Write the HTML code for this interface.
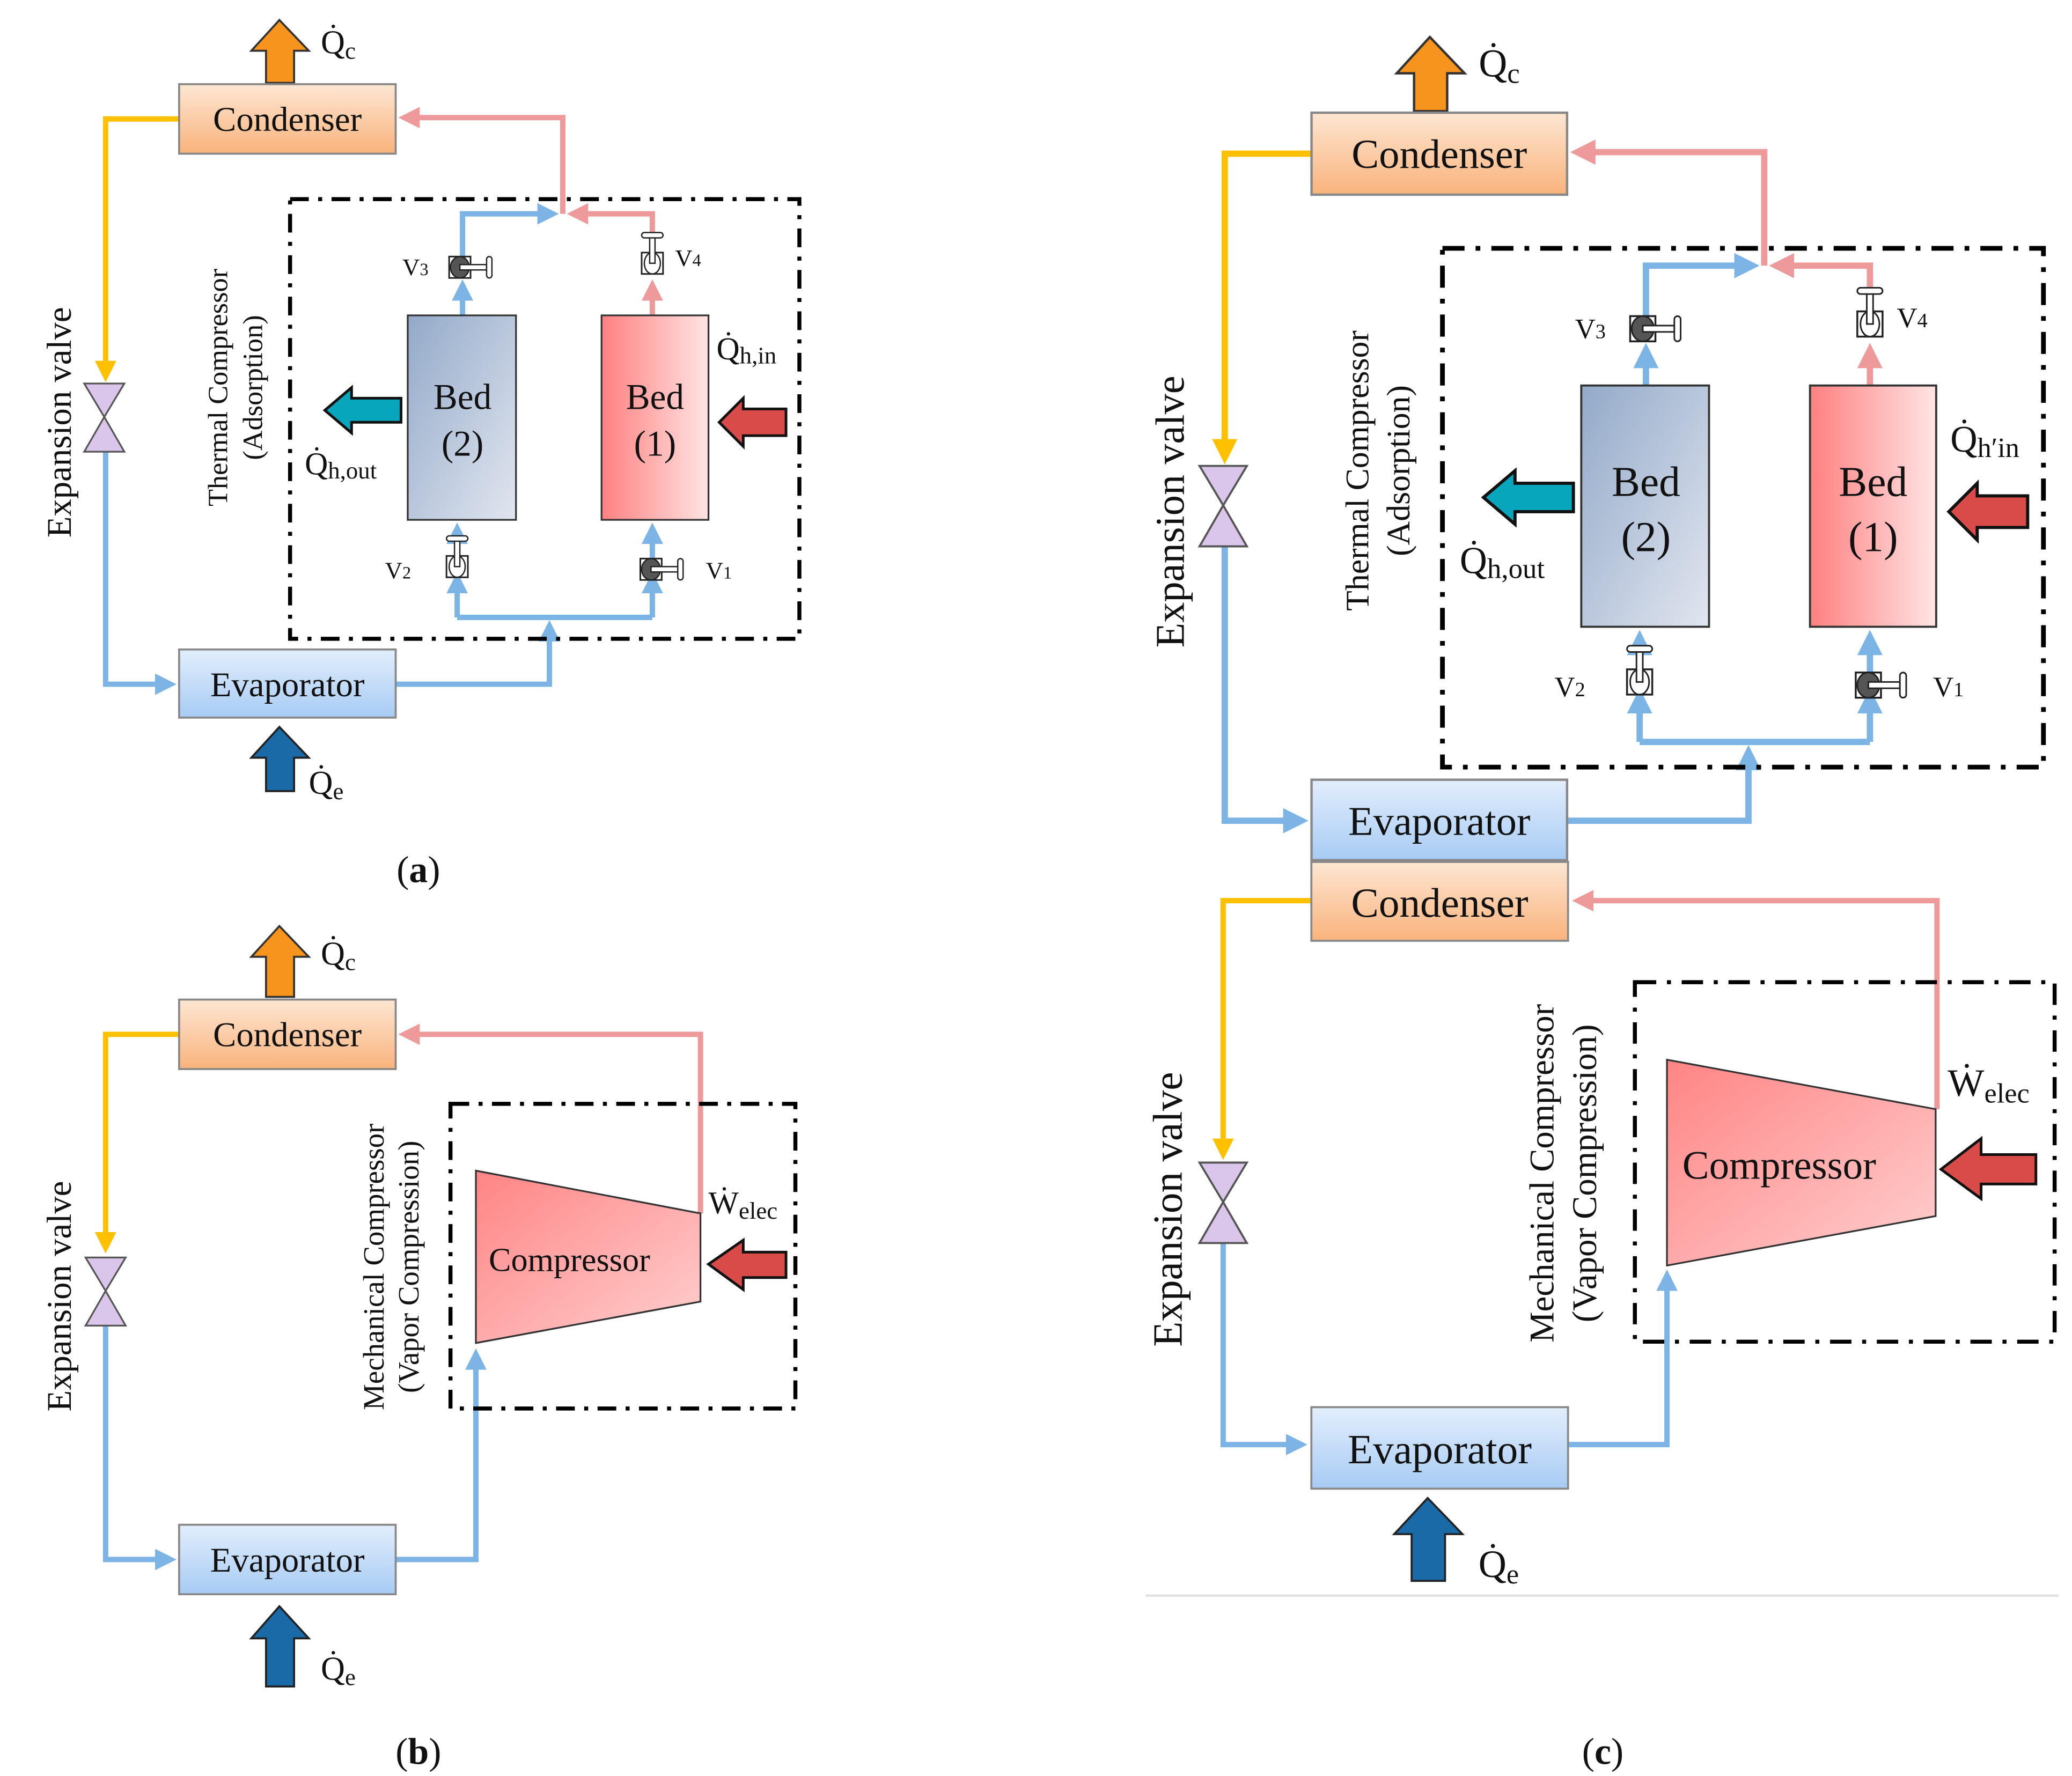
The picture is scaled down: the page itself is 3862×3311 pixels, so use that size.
<!DOCTYPE html>
<html><head><meta charset="utf-8">
<style>html,body{margin:0;padding:0;background:#fff;}svg{display:block;}
text{font-family:"Liberation Serif",serif;fill:#111;}</style></head>
<body>
<svg width="3862" height="3311" viewBox="0 0 1550 1329" preserveAspectRatio="none" xmlns="http://www.w3.org/2000/svg" font-family="Liberation Serif, serif">
<defs>
<linearGradient id="gCond" x1="0" y1="0" x2="0" y2="1"><stop offset="0" stop-color="#fde6d2"/><stop offset="1" stop-color="#f9b37c"/></linearGradient>
<linearGradient id="gEvap" x1="0" y1="0" x2="0" y2="1"><stop offset="0" stop-color="#e2eefc"/><stop offset="1" stop-color="#a7cbf4"/></linearGradient>
<linearGradient id="gB2" x1="0" y1="0" x2="1" y2="1"><stop offset="0" stop-color="#93a9c9"/><stop offset="1" stop-color="#e1e6ef"/></linearGradient>
<linearGradient id="gB1" x1="0" y1="0" x2="1" y2="0"><stop offset="0" stop-color="#ff8080"/><stop offset="1" stop-color="#ffe4e4"/></linearGradient>
<linearGradient id="gComp" x1="0" y1="0" x2="1" y2="1"><stop offset="0" stop-color="#ff8484"/><stop offset="1" stop-color="#ffd0d0"/></linearGradient>
<marker id="mB" markerWidth="4" markerHeight="4" refX="3" refY="2" orient="auto" markerUnits="strokeWidth"><path d="M0,0 L4,2 L0,4 Z" fill="#7cb4e6"/></marker>
<marker id="mP" markerWidth="4" markerHeight="4" refX="3" refY="2" orient="auto" markerUnits="strokeWidth"><path d="M0,0 L4,2 L0,4 Z" fill="#ee9a9a"/></marker>
<marker id="mY" markerWidth="4" markerHeight="4" refX="3" refY="2" orient="auto" markerUnits="strokeWidth"><path d="M0,0 L4,2 L0,4 Z" fill="#ffc000"/></marker>
<g id="valveA"><rect x="-8" y="-8" width="16" height="16" fill="#fff" stroke="#222" stroke-width="1.2"/><ellipse cx="0" cy="0" rx="7" ry="8" fill="#555" stroke="#222"/><rect x="0" y="-2" width="20" height="4" fill="#fff" stroke="#222" stroke-width="1"/><rect x="20" y="-8" width="4" height="16" rx="2" fill="#fff" stroke="#222" stroke-width="1"/></g>
<g id="valveB"><rect x="-8" y="-8" width="16" height="16" fill="#fff" stroke="#222" stroke-width="1.2"/><ellipse cx="0" cy="0" rx="6" ry="8" fill="#fff" stroke="#222"/><rect x="-2" y="-20" width="4" height="20" fill="#fff" stroke="#222" stroke-width="1"/><rect x="-8" y="-23" width="16" height="4" rx="2" fill="#fff" stroke="#222" stroke-width="1"/></g>
<g id="bowtie"><path d="M-15,0 L15,0 L0,25 Z M-15,51 L15,51 L0,25 Z" fill="#d9c6ea" stroke="#555" stroke-width="1.3"/></g>

<g id="panelA" font-family="Liberation Serif, serif">
  <path d="M199,62 L199,38 L188,38 L209,15 L231,38 L220,38 L220,62 Z" fill="#f7941d" stroke="#333" stroke-width="1.5"/>
  <text x="240" y="40" font-size="25">Q&#775;<tspan font-size="18" dy="4">c</tspan></text>
  <polyline points="134,89 79,89 79,282" fill="none" stroke="#ffc000" stroke-width="4" marker-end="url(#mY)"/>
  <polyline points="79,338 79,512 128,512" fill="none" stroke="#7cb4e6" stroke-width="4" marker-end="url(#mB)"/>
  <polyline points="296,512 411,512 411,468" fill="none" stroke="#7cb4e6" stroke-width="4" marker-end="url(#mB)"/>
  <polyline points="342,462 488,462" fill="none" stroke="#7cb4e6" stroke-width="4"/>
  <polyline points="342,462 342,432" fill="none" stroke="#7cb4e6" stroke-width="4" marker-end="url(#mB)"/>
  <polyline points="488,462 488,432" fill="none" stroke="#7cb4e6" stroke-width="4" marker-end="url(#mB)"/>
  <polyline points="342,412 342,395" fill="none" stroke="#7cb4e6" stroke-width="4" marker-end="url(#mB)"/>
  <polyline points="488,418 488,395" fill="none" stroke="#7cb4e6" stroke-width="4" marker-end="url(#mB)"/>
  <polyline points="346,236 346,213" fill="none" stroke="#7cb4e6" stroke-width="4" marker-end="url(#mB)"/>
  <polyline points="346,192 346,160 414,160" fill="none" stroke="#7cb4e6" stroke-width="4" marker-end="url(#mB)"/>
  <polyline points="488,236 488,213" fill="none" stroke="#ee9a9a" stroke-width="4" marker-end="url(#mP)"/>
  <polyline points="488,176 488,160 428,160" fill="none" stroke="#ee9a9a" stroke-width="4" marker-end="url(#mP)"/>
  <polyline points="421,160 421,88 302,88" fill="none" stroke="#ee9a9a" stroke-width="4" marker-end="url(#mP)"/>
  <rect x="134" y="63" width="162" height="52" fill="url(#gCond)" stroke="#888" stroke-width="1.5"/>
  <text x="215" y="98" font-size="26" text-anchor="middle">Condenser</text>
  <rect x="134" y="486" width="162" height="51" fill="url(#gEvap)" stroke="#888" stroke-width="1.5"/>
  <text x="215" y="521" font-size="26" text-anchor="middle">Evaporator</text>
  <use href="#bowtie" x="78" y="287"/>
  <text transform="translate(53,316) rotate(-90)" font-size="26" text-anchor="middle">Expansion valve</text>
  <rect x="217" y="149" width="381" height="329" fill="none" stroke="#000" stroke-width="3" stroke-dasharray="14 7 3 7"/>
  <rect x="305" y="236" width="81" height="153" fill="url(#gB2)" stroke="#333" stroke-width="1.3"/>
  <text x="346" y="306" font-size="27" text-anchor="middle">Bed</text>
  <text x="346" y="341" font-size="27" text-anchor="middle">(2)</text>
  <rect x="450" y="236" width="80" height="153" fill="url(#gB1)" stroke="#333" stroke-width="1.3"/>
  <text x="490" y="306" font-size="27" text-anchor="middle">Bed</text>
  <text x="490" y="341" font-size="27" text-anchor="middle">(1)</text>
  <use href="#valveA" x="344" y="200"/>
  <use href="#valveB" x="488" y="197"/>
  <use href="#valveB" x="342" y="424"/>
  <use href="#valveA" x="487" y="426"/>
  <text x="301" y="206" font-size="18">V<tspan font-size="13">3</tspan></text>
  <text x="505" y="199" font-size="18">V<tspan font-size="13">4</tspan></text>
  <text x="288" y="433" font-size="18">V<tspan font-size="13">2</tspan></text>
  <text x="528" y="433" font-size="18">V<tspan font-size="13">1</tspan></text>
  <path d="M300,298 L263,298 L263,290 L243,307 L263,324 L263,316 L300,316 Z" fill="#08a6bd" stroke="#111" stroke-width="2"/>
  <path d="M588,306 L556,306 L556,298 L538,316 L556,334 L556,326 L588,326 Z" fill="#d94b48" stroke="#111" stroke-width="2"/>
  <text x="228" y="355" font-size="24">Q&#775;<tspan font-size="18" dy="3">h,out</tspan></text>
  <text transform="translate(170,290) rotate(-90)" font-size="21" text-anchor="middle">Thermal Compressor</text>
  <text transform="translate(196,290) rotate(-90)" font-size="21" text-anchor="middle">(Adsorption)</text>
</g>
</defs>

<use href="#panelA"/>
<text x="536" y="269" font-size="24">Q&#775;<tspan font-size="18" dy="3">h,in</tspan></text>
<path d="M199,592 L199,567 L188,567 L209,544 L231,567 L220,567 L220,592 Z" fill="#1a6aa8" stroke="#222" stroke-width="1.5"/>
<text x="231" y="594" font-size="25">Q&#775;<tspan font-size="18" dy="4">e</tspan></text>
<text x="313" y="660" font-size="28" text-anchor="middle">(<tspan font-weight="bold">a</tspan>)</text>

<g transform="translate(823,10) scale(1.18)"><use href="#panelA"/></g>
<text x="1459" y="338" font-size="28">Q&#775;<tspan font-size="21" dy="4">h′in</tspan></text>

<!-- panel b -->
<path d="M199,746 L199,716 L188,716 L209,693 L231,716 L220,716 L220,746 Z" fill="#f7941d" stroke="#333" stroke-width="1.5"/>
<text x="240" y="722" font-size="25">Q&#775;<tspan font-size="18" dy="4">c</tspan></text>
<polyline points="134,774 79,774 79,934" fill="none" stroke="#ffc000" stroke-width="4" marker-end="url(#mY)"/>
<polyline points="79,992 79,1167 128,1167" fill="none" stroke="#7cb4e6" stroke-width="4" marker-end="url(#mB)"/>
<polyline points="296,1167 356,1167 356,1013" fill="none" stroke="#7cb4e6" stroke-width="4" marker-end="url(#mB)"/>
<polyline points="524,908 524,774 302,774" fill="none" stroke="#ee9a9a" stroke-width="4" marker-end="url(#mP)"/>
<rect x="134" y="748" width="162" height="52" fill="url(#gCond)" stroke="#888" stroke-width="1.5"/>
<text x="215" y="783" font-size="26" text-anchor="middle">Condenser</text>
<rect x="134" y="1141" width="162" height="52" fill="url(#gEvap)" stroke="#888" stroke-width="1.5"/>
<text x="215" y="1176" font-size="26" text-anchor="middle">Evaporator</text>
<use href="#bowtie" x="79" y="941"/>
<text transform="translate(53,970) rotate(-90)" font-size="26" text-anchor="middle">Expansion valve</text>
<rect x="337" y="826" width="258" height="228" fill="none" stroke="#000" stroke-width="3" stroke-dasharray="14 7 3 7"/>
<path d="M356,876 L524,908 L524,974 L356,1005 Z" fill="url(#gComp)" stroke="#333" stroke-width="1.3"/>
<text x="426" y="951" font-size="25" text-anchor="middle">Compressor</text>
<path d="M588,937 L556,937 L556,928 L530,946 L556,965 L556,956 L588,956 Z" fill="#d94b48" stroke="#111" stroke-width="2"/>
<text x="530" y="908" font-size="24">W&#775;<tspan font-size="18" dy="4">elec</tspan></text>
<text transform="translate(287,948) rotate(-90)" font-size="22" text-anchor="middle">Mechanical Compressor</text>
<text transform="translate(313,948) rotate(-90)" font-size="22" text-anchor="middle">(Vapor Compression)</text>
<path d="M199,1262 L199,1226 L188,1226 L209,1202 L231,1226 L220,1226 L220,1262 Z" fill="#1a6aa8" stroke="#222" stroke-width="1.5"/>
<text x="240" y="1257" font-size="25">Q&#775;<tspan font-size="18" dy="4">e</tspan></text>
<text x="313" y="1320" font-size="28" text-anchor="middle">(<tspan font-weight="bold">b</tspan>)</text>

<!-- panel c bottom -->
<polyline points="981,674 915,674 915,864" fill="none" stroke="#ffc000" stroke-width="4" marker-end="url(#mY)"/>
<polyline points="915,930 915,1081 974,1081" fill="none" stroke="#7cb4e6" stroke-width="4" marker-end="url(#mB)"/>
<polyline points="1173,1081 1247,1081 1247,954" fill="none" stroke="#7cb4e6" stroke-width="4" marker-end="url(#mB)"/>
<polyline points="1449,830 1449,674 1180,674" fill="none" stroke="#ee9a9a" stroke-width="4" marker-end="url(#mP)"/>
<rect x="981" y="645" width="192" height="59" fill="url(#gCond)" stroke="#888" stroke-width="1.5"/>
<text x="1077" y="686" font-size="31" text-anchor="middle">Condenser</text>
<rect x="981" y="1053" width="192" height="61" fill="url(#gEvap)" stroke="#888" stroke-width="1.5"/>
<text x="1077" y="1095" font-size="31" text-anchor="middle">Evaporator</text>
<g transform="translate(915,870) scale(1.18)"><use href="#bowtie"/></g>
<text transform="translate(884,905) rotate(-90)" font-size="31" text-anchor="middle">Expansion valve</text>
<rect x="1223" y="735" width="314" height="269" fill="none" stroke="#000" stroke-width="3" stroke-dasharray="16 8 3 8"/>
<path d="M1247,793 L1448,830 L1448,910 L1247,947 Z" fill="url(#gComp)" stroke="#333" stroke-width="1.3"/>
<text x="1331" y="882" font-size="30" text-anchor="middle">Compressor</text>
<path d="M1523,864 L1482,864 L1482,852 L1452,875 L1482,897 L1482,886 L1523,886 Z" fill="#d94b48" stroke="#111" stroke-width="2"/>
<text x="1457" y="820" font-size="29">W&#775;<tspan font-size="21" dy="5">elec</tspan></text>
<text transform="translate(1162,878) rotate(-90)" font-size="26" text-anchor="middle">Mechanical Compressor</text>
<text transform="translate(1194,878) rotate(-90)" font-size="26" text-anchor="middle">(Vapor Compression)</text>
<path d="M1056,1183 L1056,1148 L1043,1148 L1068,1121 L1094,1148 L1081,1148 L1081,1183 Z" fill="#1a6aa8" stroke="#222" stroke-width="1.5"/>
<text x="1106" y="1180" font-size="29">Q&#775;<tspan font-size="21" dy="5">e</tspan></text>
<line x1="857" y1="1194" x2="1540" y2="1194" stroke="#ddd" stroke-width="1.5"/>
<text x="1199" y="1320" font-size="28" text-anchor="middle">(<tspan font-weight="bold">c</tspan>)</text>
</svg>
</body></html>
